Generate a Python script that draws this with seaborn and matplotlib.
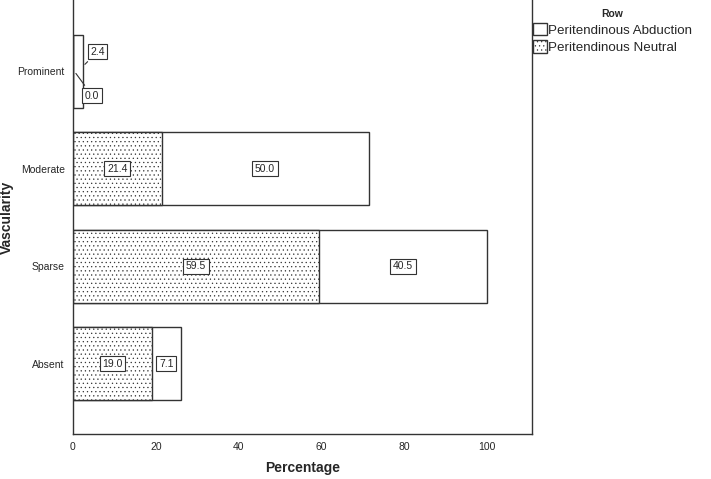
import matplotlib
matplotlib.use("Agg")
import matplotlib.pyplot as plt
import seaborn as sns
import pandas as pd
from matplotlib.patches import Patch

categories = ["Prominent", "Moderate", "Sparse", "Absent"]
neutral = [0.0, 21.4, 59.5, 19.0]
abduction = [2.4, 50.0, 40.5, 7.1]
series_names = ["Peritendinous Abduction", "Peritendinous Neutral"]
xticks = [0, 20, 40, 60, 80, 100]

sns.set_style("white")
plt.rcParams["font.family"] = ["Liberation Sans", "DejaVu Sans"]
plt.rcParams["hatch.color"] = "#bdbdbd"
plt.rcParams["hatch.linewidth"] = 0.4

df = pd.DataFrame({
    "Vascularity": categories,
    "Neutral": neutral,
    "Abduction": abduction,
})
df["Total"] = df["Neutral"] + df["Abduction"]

fig = plt.figure(figsize=(7.11, 4.79), dpi=100)
ax = fig.add_axes([73/711, 1 - 434/479, (532 - 73)/711, 434/479])

edge = "#333333"
sns.barplot(data=df, y="Vascularity", x="Total", order=categories, orient="h",
            color="white", edgecolor=edge, linewidth=1.0, width=0.75, ax=ax)
sns.barplot(data=df, y="Vascularity", x="Neutral", order=categories, orient="h",
            color="white", edgecolor=edge, linewidth=1.0, width=0.75, ax=ax,
            hatch="....")

n = len(categories)
for p in ax.patches[n:2*n]:
    p.set_edgecolor(edge)

ax.set_xlim(0, 110.9)
ax.set_ylim(3.72, -0.73)
ax.set_xticks(xticks)
ax.set_xticklabels([str(t) for t in xticks], fontsize=7.5)
ax.set_yticks(range(n))
ax.set_yticklabels(categories, fontsize=7.5)
ax.tick_params(axis="both", direction="out", length=4, width=1, color="#333333", pad=2)
ax.set_xlabel("Percentage", fontsize=10, fontweight="bold")
ax.set_ylabel("Vascularity", fontsize=10, fontweight="bold")
ax.xaxis.set_label_coords(0.5, (434 - 461) / 434)
ax.yaxis.set_label_coords((14 - 73) / 459, 0.5)

for side in ["left", "bottom", "right"]:
    ax.spines[side].set_color("#333333")
    ax.spines[side].set_linewidth(1.0)
ax.spines["top"].set_visible(False)

bbox = dict(boxstyle="square,pad=0.25", fc="white", ec="#333333", lw=0.8)
for i, (nv, av) in enumerate(zip(neutral, abduction)):
    if i == 0:
        ax.annotate(f"{av:.1f}", xy=(nv + av, i - 0.05), xytext=(nv + av + 1.8, i - 0.2),
                    fontsize=7.5, ha="left", va="center", bbox=bbox,
                    arrowprops=dict(arrowstyle="-", color="#333333", lw=0.8))
        ax.annotate(f"{nv:.1f}", xy=(0.3, i), xytext=(nv + av + 0.5, i + 0.25),
                    fontsize=7.5, ha="left", va="center", bbox=bbox,
                    arrowprops=dict(arrowstyle="-", color="#333333", lw=0.8))
    else:
        ax.text(nv / 2, i, f"{nv:.1f}", fontsize=7.5, ha="center", va="center", bbox=bbox)
        ax.text(nv + av / 2, i, f"{av:.1f}", fontsize=7.5, ha="center", va="center", bbox=bbox)

handles = [Patch(facecolor="white", edgecolor="#333333", label=series_names[0]),
           Patch(facecolor="white", edgecolor="#333333", hatch="....", label=series_names[1])]
leg = fig.legend(handles=handles, loc="upper left", bbox_to_anchor=(524/711, 1.0),
                 title="Row", frameon=False, fontsize=9.6, handlelength=1.0,
                 handleheight=1.1, handletextpad=0.1, labelspacing=0.25, borderpad=0.2)
leg.get_title().set_fontweight("bold")
leg.get_title().set_fontsize(7.5)

fig.savefig("out.png", dpi=100)
